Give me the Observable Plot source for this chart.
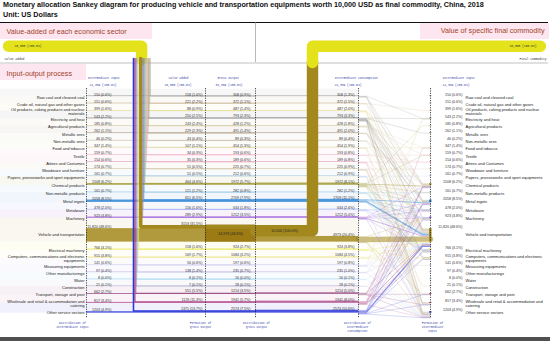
<!DOCTYPE html>
<html><head><meta charset="utf-8">
<script src="https://cdn.jsdelivr.net/npm/d3@7"></script>
<script src="https://cdn.jsdelivr.net/npm/@observablehq/plot@0.6"></script>
<style>
body{margin:0;background:#fff;width:550px;height:343px;overflow:hidden;font-family:"Liberation Sans",Arial,sans-serif}
#title{height:22px;box-sizing:border-box;padding:0 0 0 3px;font-weight:bold;font-size:7.2px;line-height:10px;color:#111;white-space:nowrap}
#chart svg{display:block}
</style></head><body>
<div id="title">Monetary allocation Sankey diagram for producing vehicle and transportation equipments worth 10,000 USD as final commodity, China, 2018<br>Unit: US Dollars</div>
<div id="chart"></div>
<script>
const sectors = [
 "Raw coal and cleaned coal",
 "Crude oil, natural gas and other gases",
 "Oil products, coking products and nuclear\nmaterials",
 "Electricity and heat",
 "Agricultural products",
 "Metallic ores",
 "Non-metallic ores",
 "Food and tobacco",
 "Textile",
 "Attires and Costumes",
 "Woodware and furniture",
 "Papers, prosseworks and sport equipments",
 "Chemical products",
 "Non-metallic products",
 "Metal ingots",
 "Metalware",
 "Machinery",
 "Vehicle and transportation",
 "Electrical machinery",
 "Computers, communications and electronic\nequipments",
 "Measuring equipments",
 "Other manufacturings",
 "Water",
 "Construction",
 "Transport, storage and post",
 "Wholesale and retail & accommodation and\ncatering",
 "Other service sectors"
];
const intermediateInput = [150,151,399,543,185,262,46,347,159,154,174,161,1508,161,2058,478,923,11820,766,915,141,97,8,21,662,817,1203];
const valueAdded = [158,221,88,250,243,229,43,107,34,35,51,51,464,121,651,156,289,3153,158,169,56,138,8,7,551,1126,1371];
const grossOutput = [308,372,487,793,428,491,89,454,193,189,225,212,1972,282,2709,634,1212,14973,924,1084,197,235,16,28,1214,1941,2574];
const intermediateConsumption = [308,372,487,793,428,491,89,454,193,189,225,212,1972,282,2709,634,1212,4973,924,1084,197,235,16,28,1214,1941,2574];
const finalCommodity = [0,0,0,0,0,0,0,0,0,0,0,0,0,0,0,0,0,10000,0,0,0,0,0,0,0,0,0];
const totals = {input: 24339, valueAdded: 10000, gross: 34339, consumption: 24339, final: 10000};
// estimated supplier -> "Vehicle and transportation" intermediate flows
const toVehicle = [30,20,120,250,30,10,5,60,70,20,40,60,500,120,1300,400,600,4700,500,500,60,60,5,10,400,800,1100];
// other estimated intermediate flows [supplier index, buyer index, value]
const otherLinks = [
 [0,3,130],[0,14,90],[0,12,58],
 [1,2,250],[1,12,100],
 [2,24,130],[2,12,120],[2,14,60],[2,26,57],
 [3,14,130],[3,12,110],[3,26,80],[3,3,60],[3,16,40],[3,15,30],[3,5,30],[3,25,40],[3,19,25],
 [4,7,280],[4,8,50],[4,12,30],[4,25,38],
 [5,14,460],
 [6,13,50],[6,12,20],
 [7,25,170],[7,26,150],[7,7,74],
 [8,9,70],[8,8,50],
 [9,26,80],[9,25,60],[9,9,29],
 [10,10,60],[10,26,60],[10,23,15],[10,25,50],
 [11,26,70],[11,25,40],[11,11,40],
 [12,12,700],[12,19,200],[12,18,150],[12,4,100],[12,26,100],[12,14,80],[12,13,60],[12,8,40],[12,15,40],
 [13,13,50],[13,18,40],[13,14,40],[13,19,20],
 [14,14,700],[14,16,280],[14,15,250],[14,18,150],
 [15,16,100],[15,18,60],[15,15,40],[15,26,30],
 [16,16,300],[16,14,80],[16,18,60],[16,12,40],[16,15,40],[16,26,40],
 [17,24,150],[17,26,60],[17,16,40],
 [18,18,150],[18,16,120],[18,19,100],[18,3,40],
 [19,19,400],[19,18,80],[19,20,40],[19,26,60],
 [20,16,30],[20,20,30],[20,26,40],[20,3,20],
 [21,14,100],[21,26,30],
 [22,26,6],
 [23,26,15],
 [24,25,150],[24,12,150],[24,14,150],[24,26,100],[24,24,100],
 [25,12,250],[25,14,200],[25,16,150],[25,18,120],[25,19,150],[25,15,80],[25,7,60],[25,26,80],
 [26,26,300],[26,12,250],[26,14,200],[26,19,150],[26,18,120],[26,16,120],[26,25,150],[26,24,100]
];
const colors = ["#8c8c8c","#c4a882","#e2d67a","#6f6f6f","#cbbf8a","#9c8466","#bdb3a0","#d9cf96","#eaa6bd","#df8fb0","#c9b68c","#9fc0dc","#a29a36","#7fbde0","#2f86d6","#8a9ff0","#9146d6","#a3891d","#e6e23a","#efe48a","#c3c3ee","#b8b0e0","#8ccbee","#a8a8cc","#8a2f6e","#b24f8f","#2a36d8"];
const headers = ["Intermediate input","Value added","Gross output","Intermediate consumption","Intermediate input"];
const footers = ["Distribution of\nintermediate input","Formation of\ngross output","Distribution of\ngross output","Distribution of\nintermediate\nconsumption","Formation of\nintermediate\ninput"];

// ---- layout (pixel units) ----
const K = 0.00114, PAD = 6.85, T0 = 95.5;
const COL = {inL: 86, va: 205, gross: 255, ic: 358, inR: 430, trunkR: 150, finalX: 312, bandY: 45.7};
const th = v => Math.max(K * v, 0.6);
const sw = v => Math.max(K * v, 0.45);
const fmtN = v => v >= 10000 ? d3.format(",")(v) : String(v);
const fmt = (v, t) => `${fmtN(v)} (${(100 * v / t).toFixed(1)}%)`;

let cum = 0;
const rows = sectors.map((s, i) => {
  const top = T0 + i * PAD + K * cum;
  cum += grossOutput[i];
  const bottom = top + Math.max(K * grossOutput[i], 0.6);
  return {i, s, top, bottom, color: colors[i],
    inTop: bottom - th(intermediateInput[i]),
    icTop: bottom - th(intermediateConsumption[i])};
});
rows.forEach((r, i) => { r.bgTop = i ? rows[i - 1].bottom : r.top - PAD; });

// trunk strands (value added)
const strandW = valueAdded.map(sw);
const trunkW = d3.sum(strandW);
const trunkC = COL.trunkR - trunkW / 2;
let acc = 0;
const strandPts = [];
rows.forEach((r, i) => {
  const w = strandW[i];
  const xc = COL.trunkR - acc - w / 2; acc += w;
  const yc = r.top + w / 2;
  [[xc, 58], [xc, yc], [COL.gross, yc]].forEach(([x, y]) => strandPts.push({id: i, x, y, w, color: r.color}));
});

// intermediate links
const allLinks = [];
toVehicle.forEach((v, i) => { if (v > 0) allLinks.push({s: i, t: 17, v}); });
otherLinks.forEach(([s, t, v]) => allLinks.push({s, t, v}));
allLinks.forEach(l => l.w = Math.max(K * l.v, 0.35));
rows.forEach((r, i) => {
  let off = 0;
  allLinks.filter(l => l.s === i).sort((a, b) => a.t - b.t).forEach(l => { l.y0 = r.icTop + off + l.w / 2; off += l.w; });
  off = 0;
  allLinks.filter(l => l.t === i).sort((a, b) => a.s - b.s).forEach(l => { l.y1 = r.inTop + off + l.w / 2; off += l.w; });
});
const linkPts = [];
allLinks.forEach((l, k) => {
  [[COL.ic, l.y0], [COL.ic + 8, l.y0], [COL.inR - 8, l.y1], [COL.inR, l.y1]].forEach(([x, y]) =>
    linkPts.push({id: k, x, y, w: l.w, color: colors[l.s]}));
});

const veh = rows[17];
const finalW = K * finalCommodity[17];
const finalY = veh.top + finalW / 2;
const yellow = "#e3e21b";

const labelFont = "Liberation Sans, Arial, sans-serif";
const mono = "Liberation Mono, DejaVu Sans Mono, monospace";
const blue = "#3b46a8";
const headX = [87, 168, 217, 334, 442];
const totX = [89, 164, 215, 334, 442];
const totVals = [totals.input, totals.valueAdded, totals.gross, totals.consumption, totals.input];
const axesX = [COL.inL, COL.va, COL.gross, COL.ic, COL.inR];
const footX = [72, 200, 256, 357, 432];

const plot = Plot.plot({
  width: 550, height: 321, margin: 0,
  x: {domain: [0, 550], range: [0, 550], axis: null},
  y: {domain: [22, 343], range: [0, 321], axis: null},
  color: {type: "identity"},
  style: {background: "white", fontFamily: labelFont},
  marks: [
    // header backgrounds
    Plot.rect([0], {x1: () => 0, x2: () => 152, y1: () => 23, y2: () => 39, fill: "#fde6ef"}),
    Plot.rect([0], {x1: () => 420, x2: () => 549, y1: () => 23, y2: () => 39, fill: "#fde6ef"}),
    Plot.rect([0], {x1: () => 0, x2: () => 86, y1: () => 64, y2: () => 80, fill: "#fde6ef"}),
    // row backgrounds
    Plot.rect(rows, {x1: () => 0, x2: () => COL.ic, y1: "bgTop", y2: "bottom", fill: "color", fillOpacity: 0.07}),
    // rules
    Plot.ruleY([22], {x1: 0, x2: 548, stroke: "#111", strokeWidth: 1}),
    Plot.ruleY([62.5], {x1: 0, x2: 548, stroke: "#999", strokeWidth: 0.6}),
    Plot.ruleX([255], {y1: 22, y2: 62, stroke: "#888", strokeWidth: 0.6}),
    Plot.rect([0], {x1: () => 0, x2: () => 550, y1: () => 337, y2: () => 341, fill: "#505050"}),
    // section titles
    Plot.text(["Value-added of each economic sector"], {x: () => 6, y: () => 31, text: d => d, textAnchor: "start", fontSize: 7.2, fill: "#a2432a"}),
    Plot.text(["Value of specific final commodity"], {x: () => 544, y: () => 30.5, text: d => d, textAnchor: "end", fontSize: 7.2, fill: "#a2432a"}),
    Plot.text(["Input-output process"], {x: () => 6, y: () => 73, text: d => d, textAnchor: "start", fontSize: 7.2, fill: "#a2432a"}),
    // input flows (intermediate input -> gross output)
    Plot.rect(rows, {x1: () => COL.inL, x2: () => COL.gross, y1: "inTop", y2: "bottom", fill: "color", fillOpacity: 0.85}),
    // gross output -> intermediate consumption
    Plot.rect(rows, {x1: () => COL.gross, x2: () => COL.ic, y1: "icTop", y2: "bottom", fill: "color", fillOpacity: 0.85}),
    // gross output node of vehicle
    Plot.rect([veh], {x1: () => COL.va, x2: () => COL.gross, y1: "top", y2: "bottom", fill: "#9c7a14"}),
    // intermediate links
    Plot.line(linkPts, {x: "x", y: "y", z: "id", stroke: "color", strokeWidth: "w", strokeOpacity: 0.55, strokeLinejoin: "round"}),
    // right input nodes
    Plot.rect(rows, {x1: () => COL.inR - 1, x2: () => COL.inR + 1.5, y1: "inTop", y2: "bottom", fill: "color"}),
    // value-added band + trunk strands
    Plot.line([[8, COL.bandY], [trunkC, COL.bandY], [trunkC, 59]], {x: d => d[0], y: d => d[1], stroke: yellow, strokeWidth: K * totals.valueAdded, strokeLinejoin: "round"}),
    Plot.line(strandPts, {x: "x", y: "y", z: "id", stroke: "color", strokeWidth: "w", strokeLinejoin: "miter"}),
    // final commodity flow
    Plot.line([[COL.gross, finalY], [COL.finalX, finalY], [COL.finalX, 61]], {x: d => d[0], y: d => d[1], stroke: colors[17], strokeWidth: finalW, strokeLinejoin: "round"}),
    Plot.line([[COL.finalX, 62], [COL.finalX, COL.bandY], [540, COL.bandY]], {x: d => d[0], y: d => d[1], stroke: yellow, strokeWidth: finalW, strokeLinejoin: "round"}),
    Plot.text([fmt(totals.valueAdded, totals.valueAdded)], {x: () => 14, y: () => COL.bandY, text: d => d, textAnchor: "start", fontSize: 3, fontFamily: mono, fill: "#333"}),
    Plot.text([fmt(totals.final, totals.final)], {x: () => 536, y: () => COL.bandY, text: d => d, textAnchor: "end", fontSize: 3, fontFamily: mono, fill: "#333"}),
    Plot.text(["Value added"], {x: () => 4, y: () => 58.5, text: d => d, textAnchor: "start", fontSize: 3, fontFamily: mono, fill: "#333"}),
    Plot.text(["Final commodity"], {x: () => 546, y: () => 58.5, text: d => d, textAnchor: "end", fontSize: 3, fontFamily: mono, fill: "#333"}),
    // dashed axes
    Plot.ruleX(axesX, {y1: 88, y2: 318, stroke: "#222", strokeWidth: 0.8, strokeDasharray: "1.2,1.2"}),
    // column headers
    Plot.text(headers, {x: (d, i) => headX[i], y: () => 78, text: d => d, textAnchor: "start", fontSize: 3, fontFamily: mono, fill: blue}),
    Plot.text(totVals, {x: (d, i) => totX[i], y: () => 84.5, text: d => fmt(d, d), textAnchor: "start", fontSize: 3, fontFamily: mono, fill: blue}),
    Plot.text(footers, {x: (d, i) => footX[i], y: () => 321, text: d => d, textAnchor: "middle", lineAnchor: "top", fontSize: 3, fontFamily: mono, fill: blue, lineHeight: 1.35}),
    // sector names
    Plot.text(rows, {x: () => 84, y: r => (r.top + r.bottom) / 2 + 1.2, text: "s", textAnchor: "end", fontSize: 4, fill: "#222", lineHeight: 1.05}),
    Plot.text(rows, {x: () => 465, y: r => (r.top + r.bottom) / 2 + 1.2, text: "s", textAnchor: "start", fontSize: 4, fill: "#222", lineHeight: 1.05}),
    // value labels
    Plot.text(rows, {x: () => 111, y: r => r.inTop - 0.5, text: r => fmt(intermediateInput[r.i], totals.input), textAnchor: "end", lineAnchor: "bottom", fontSize: 3.6, fill: "#333"}),
    Plot.text(rows, {x: () => 202, y: r => r.top - 0.5, text: r => fmt(valueAdded[r.i], totals.valueAdded), textAnchor: "end", lineAnchor: "bottom", fontSize: 3.6, fill: "#333"}),
    Plot.text(rows.filter(r => r.i !== 17), {x: () => 250, y: r => r.top - 0.5, text: r => fmt(grossOutput[r.i], totals.gross), textAnchor: "end", lineAnchor: "bottom", fontSize: 3.6, fill: "#333"}),
    Plot.text([veh], {x: () => 230, y: r => (r.top + r.bottom) / 2, text: r => fmt(grossOutput[r.i], totals.gross), textAnchor: "middle", fontSize: 3.6, fill: "#222"}),
    Plot.text(rows, {x: () => 354, y: r => r.icTop - 0.5, text: r => fmt(intermediateConsumption[r.i], totals.consumption), textAnchor: "end", lineAnchor: "bottom", fontSize: 3.6, fill: "#333"}),
    Plot.text([veh], {x: () => 284, y: () => finalY, text: r => fmt(finalCommodity[r.i], totals.final), textAnchor: "middle", fontSize: 3.6, fill: "#222"}),
    Plot.text(rows, {x: () => 462, y: r => r.inTop - 0.5, text: r => fmt(intermediateInput[r.i], totals.input), textAnchor: "end", lineAnchor: "bottom", fontSize: 3.6, fill: "#333"})
  ]
});
document.getElementById("chart").appendChild(plot);
</script>
</body></html>
